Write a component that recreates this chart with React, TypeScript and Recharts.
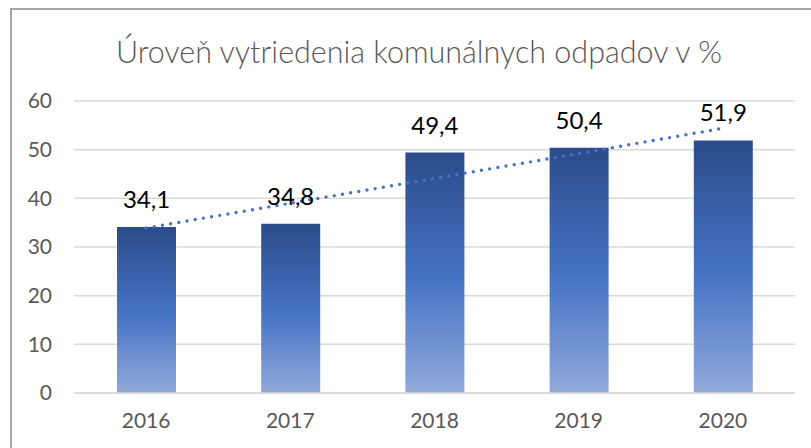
import React from "react";
import { ComposedChart, Bar, Line, XAxis, YAxis, CartesianGrid, LabelList } from "recharts";

const years = ["2016", "2017", "2018", "2019", "2020"];
const sorted = [34.1, 34.8, 49.4, 50.4, 51.9];
const trend = [33.9, 39.0, 44.1, 49.2, 54.4];
const yTicks = [0, 10, 20, 30, 40, 50, 60];
const title = "Úroveň vytriedenia komunálnych odpadov v %";

const data = years.map((y, i) => ({ year: y, value: sorted[i], trend: trend[i] }));

const FONT = "Lato, 'Open Sans', sans-serif";

export default function App() {
  return (
    <div style={{ position: "absolute", left: 0, top: 0, width: 811, height: 448, overflow: "hidden", background: "#fff" }}>
      <div
        style={{
          position: "absolute",
          left: 10,
          top: 8,
          width: 900,
          height: 500,
          borderLeft: "2px solid #A6A6A6",
          borderTop: "2px solid #A6A6A6",
        }}
      />
      <div
        style={{
          position: "absolute",
          left: 0,
          top: 0,
          width: 811,
          height: 448,
        }}
      >
        <ComposedChart
          width={811}
          height={448}
          data={data}
          margin={{ top: 101, right: 16, bottom: 25, left: 0 }}
        >
          <text
            x={419}
            y={63}
            textAnchor="middle"
            style={{ fontFamily: FONT, fontSize: 30.5, fill: "#595959", fontWeight: 300 }}
          >
            {title}
          </text>
          <defs>
            <linearGradient id="barGrad" x1="0" y1="0" x2="0" y2="1">
              <stop offset="0%" stopColor="#2C4C89" />
              <stop offset="52%" stopColor="#4472C4" />
              <stop offset="100%" stopColor="#91AADB" />
            </linearGradient>
          </defs>
          <CartesianGrid vertical={false} stroke="#D9D9D9" strokeWidth={1.5} />
          <XAxis
            dataKey="year"
            axisLine={{ stroke: "#D9D9D9", strokeWidth: 1.5 }}
            tickLine={false}
            tickSize={0}
            tickMargin={20}
            height={30}
            tick={{ fill: "#595959", fontSize: 21, fontFamily: FONT }}
          />
          <YAxis
            domain={[0, 60]}
            ticks={yTicks}
            axisLine={false}
            tickLine={false}
            tickSize={0}
            tickMargin={22}
            width={74}
            tick={{ fill: "#595959", fontSize: 21, fontFamily: FONT }}
          />
          <Bar dataKey="value" fill="url(#barGrad)" barSize={59} isAnimationActive={false}>
            <LabelList
              dataKey="value"
              position="top"
              offset={19}
              formatter={(v: number) => String(v).replace(".", ",")}
              style={{ fill: "#000", fontSize: 24, fontFamily: FONT }}
            />
          </Bar>
          <Line
            dataKey="trend"
            type="linear"
            stroke="#4472C4"
            strokeWidth={3.4}
            strokeDasharray="0 8.3"
            strokeLinecap="round"
            dot={false}
            activeDot={false}
            isAnimationActive={false}
          />
        </ComposedChart>
      </div>
    </div>
  );
}
